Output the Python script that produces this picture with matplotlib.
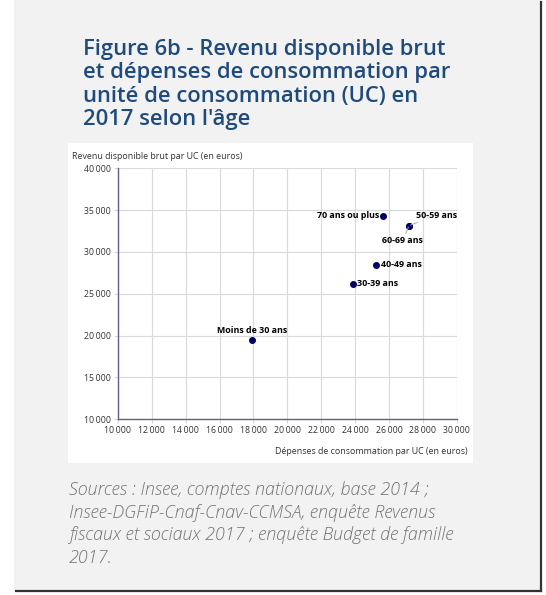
import matplotlib
matplotlib.use('Agg')
import matplotlib.pyplot as plt
from matplotlib.patches import Rectangle
from matplotlib.lines import Line2D
from matplotlib.ticker import FuncFormatter

plt.rcParams['font.family'] = ['Open Sans', 'DejaVu Sans']

# données
ages = ['Moins de 30 ans', '30-39 ans', '40-49 ans', '50-59 ans', '60-69 ans', '70 ans ou plus']
depenses = [17900, 23850, 25250, 27200, 27180, 25650]
revenu = [19500, 26200, 28500, 33150, 33100, 34300]

title_lines = ['Figure 6b - Revenu disponible brut',
               'et dépenses de consommation par',
               'unité de consommation (UC) en',
               "2017 selon l'âge"]
source_lines = ['Sources : Insee, comptes nationaux, base 2014 ;',
                'Insee-DGFiP-Cnaf-Cnav-CCMSA, enquête Revenus',
                'fiscaux et sociaux 2017 ; enquête Budget de famille',
                '2017.']

W, H = 546, 595
fig = plt.figure(figsize=(W / 100, H / 100), dpi=100, facecolor='white')

def fx(px):
    return px / W

def fy(py):
    return 1 - py / H

# panneau gris + ombre
fig.patches.append(Rectangle((fx(14), fy(590)), fx(527) , 590 / H, transform=fig.transFigure,
                             facecolor='#f2f2f2', edgecolor='none', zorder=0))
fig.lines.append(Line2D([fx(541), fx(541)], [fy(2), fy(591)], transform=fig.transFigure,
                        color='#333333', lw=1.6))
fig.lines.append(Line2D([fx(16), fx(541)], [fy(591), fy(591)], transform=fig.transFigure,
                        color='#333333', lw=1.6))
# cadre blanc du graphique
fig.patches.append(Rectangle((fx(68), fy(463)), fx(405), 320 / H, transform=fig.transFigure,
                             facecolor='white', edgecolor='none', zorder=1))

# titre
for i, line in enumerate(title_lines):
    fig.text(fx(83), fy(55 + i * 23.3), line, fontsize=15.8, fontweight='semibold',
             color='#1f4a7c', va='baseline', ha='left')

# sources
for i, line in enumerate(source_lines):
    fig.text(fx(69), fy(495 + i * 22.7), line, fontsize=12.9, fontstyle='italic',
             fontweight='light', color='#737373', va='baseline', ha='left')

ax = fig.add_axes([fx(118), fy(419.3), fx(338.7), 251 / H])
ax.set_facecolor('white')
ax.set_zorder(2)

ax.scatter(depenses, revenu, s=16, color='#000066', zorder=3)

ax.set_xlim(10000, 30000)
ax.set_ylim(10000, 40000)
ax.set_xticks(range(10000, 30001, 2000))
ax.set_yticks(range(10000, 40001, 5000))
fmt = FuncFormatter(lambda v, p: '{:,}'.format(int(v)).replace(',', '\u2009'))
ax.xaxis.set_major_formatter(fmt)
ax.yaxis.set_major_formatter(fmt)
ax.grid(True, color='#d9d9d9', lw=0.8)
ax.set_axisbelow(True)
for s in ['top', 'right']:
    ax.spines[s].set_visible(False)
for s in ['left', 'bottom']:
    ax.spines[s].set_color('#5f5f8a')
    ax.spines[s].set_linewidth(1.0)
ax.tick_params(axis='both', length=3, color='#d9d9d9', labelsize=6.3, labelcolor='#333333', pad=2)

fig.text(fx(72), fy(157), 'Revenu disponible brut par UC (en euros)', fontsize=6.4,
         color='#333333', va='center', ha='left')
fig.text(fx(468), fy(451), 'Dépenses de consommation par UC (en euros)', fontsize=6.4,
         color='#333333', va='center', ha='right')

# étiquettes des points
offsets = {
    'Moins de 30 ans': ((0, 6.5), 'center'),
    '30-39 ans': ((3.2, 0), 'left'),
    '40-49 ans': ((3.2, 0), 'left'),
    '50-59 ans': ((4.5, 7.5), 'left'),
    '60-69 ans': ((-4.5, -10.5), 'center'),
    '70 ans ou plus': ((-3, 0), 'right'),
}
for name, xv, yv in zip(ages, depenses, revenu):
    off, ha = offsets[name]
    arrow = None
    if name in ('50-59 ans', '60-69 ans'):
        arrow = dict(arrowstyle='-', color='#aaaaaa', lw=0.7, shrinkA=0, shrinkB=1)
    ax.annotate(name, (xv, yv), xytext=off, textcoords='offset points', ha=ha, va='center',
                fontsize=6.4, fontweight='bold', color='black', arrowprops=arrow)

fig.savefig('out.png', dpi=100, facecolor=fig.get_facecolor())
